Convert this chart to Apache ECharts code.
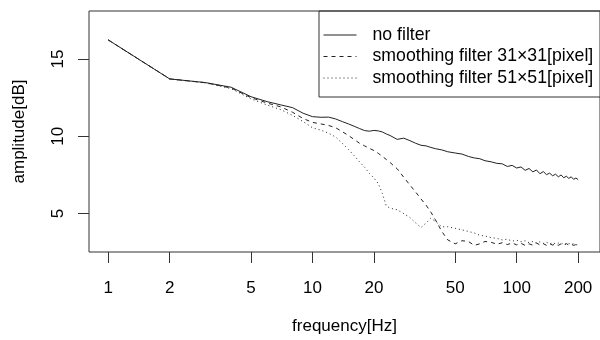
<!DOCTYPE html>
<html>
<head>
<meta charset="utf-8">
<script src="https://cdn.jsdelivr.net/npm/echarts@6/dist/echarts.min.js"></script>
<style>
  html, body { margin: 0; padding: 0; background: #fff; }
  #chart { width: 600px; height: 340px; }
</style>
</head>
<body>
<div id="chart"></div>
<script>
// frequency [Hz]
const freqs = [1, 2, 3, 4, 5, 6, 7, 8, 9, 10, 11, 12, 13, 14, 15, 16, 17, 18, 19, 20,
  21, 22, 23, 24, 26, 28, 30, 32, 34, 36, 38, 40, 43, 46, 50, 54, 58, 62, 66, 70,
  75, 80, 85, 90, 95, 100, 105, 110, 115, 120, 125, 130, 135, 140, 145, 150, 155,
  160, 165, 170, 175, 180, 185, 190, 195, 200];

// amplitude [dB]
const noFilter = [16.23, 13.71, 13.47, 13.17, 12.56, 12.24, 12.03, 11.85, 11.49, 11.27,
  11.23, 11.24, 11.12, 10.95, 10.80, 10.65, 10.50, 10.37, 10.33, 10.38,
  10.35, 10.28, 10.15, 10.05, 9.80, 9.88, 9.72, 9.55, 9.42, 9.38, 9.28, 9.20, 9.12, 9.00,
  8.92, 8.85, 8.70, 8.60, 8.55, 8.42, 8.35, 8.25, 8.22, 8.05, 8.12, 7.95, 8.02, 7.80,
  7.92, 7.70, 7.82, 7.58, 7.72, 7.52, 7.62, 7.45, 7.55, 7.38, 7.50, 7.32, 7.42, 7.28,
  7.38, 7.22, 7.30, 7.20];

const smooth31 = [16.23, 13.71, 13.46, 13.12, 12.50, 12.15, 11.90, 11.55, 11.15, 10.90,
  10.80, 10.70, 10.55, 10.30, 10.05, 9.80, 9.55, 9.38, 9.22, 9.08,
  8.90, 8.70, 8.50, 8.30, 7.90, 7.35, 6.85, 6.40, 5.95, 5.55, 5.10, 4.60, 3.85, 3.30,
  3.05, 3.25, 3.20, 2.95, 3.05, 3.20, 3.15, 3.02, 3.12, 3.00, 3.10, 2.98, 3.08, 2.95,
  3.05, 2.96, 3.10, 2.98, 3.06, 2.95, 3.05, 2.97, 3.04, 2.95, 3.05, 2.98, 3.06, 2.97,
  3.02, 2.95, 3.00, 2.92];

const smooth51 = [16.23, 13.71, 13.45, 13.08, 12.42, 12.02, 11.72, 11.35, 10.95, 10.55,
  10.40, 10.20, 9.95, 9.55, 9.15, 8.75, 8.35, 8.00, 7.60, 7.30,
  6.95, 6.30, 5.50, 5.35, 5.25, 5.00, 4.75, 4.40, 4.10, 4.40, 4.70, 4.50, 4.15, 4.15,
  4.05, 3.95, 3.85, 3.75, 3.60, 3.55, 3.45, 3.40, 3.30, 3.35, 3.22, 3.28, 3.18, 3.25,
  3.12, 3.20, 3.10, 3.18, 3.08, 3.15, 3.05, 3.12, 3.05, 3.10, 3.02, 3.10, 3.00, 3.08,
  3.02, 3.05, 2.98, 3.00];

const xTicks = [1, 2, 5, 10, 20, 50, 100, 200];
const yTicks = [5, 10, 15];
const seriesNames = ["no filter", "smoothing filter 31×31[pixel]", "smoothing filter 51×51[pixel]"];

const font = "'Liberation Sans', Arial, sans-serif";
const ink = "#333";
const lineInk = "#222";

function pairs(vals) {
  return freqs.map((f, i) => [f, vals[i]]);
}

const chart = echarts.init(document.getElementById("chart"));
chart.setOption({
  animation: false,
  backgroundColor: "#fff",
  grid: {
    left: 89,
    top: 11,
    right: -2,
    bottom: 88,
    show: true,
    borderColor: ink,
    borderWidth: 1,
  },
  legend: {
    data: seriesNames,
    orient: "vertical",
    left: 319,
    top: 11,
    padding: [14, 40, 9, 4],
    itemGap: 1.5,
    itemWidth: 33,
    itemHeight: 14,
    borderColor: ink,
    borderWidth: 1,
    borderRadius: 0,
    itemStyle: { opacity: 0 },
    lineStyle: { width: 1, color: lineInk },
    textStyle: {
      fontFamily: font,
      fontSize: 17.7,
      lineHeight: 20,
      color: "#000",
      padding: [0, 0, 0, 11],
    },
  },
  xAxis: {
    type: "log",
    min: 0.805,
    max: 255.9,
    name: "frequency[Hz]",
    nameLocation: "middle",
    nameGap: 66,
    nameTextStyle: { fontFamily: font, fontSize: 17, color: "#000" },
    axisLine: { show: false },
    splitLine: { show: false },
    axisTick: {
      customValues: xTicks,
      length: 11,
      lineStyle: { color: ink },
    },
    axisLabel: {
      customValues: xTicks,
      margin: 28,
      fontFamily: font,
      fontSize: 17,
      color: "#000",
    },
  },
  yAxis: {
    type: "value",
    min: 2.52,
    max: 18.1,
    name: "amplitude[dB]",
    nameLocation: "middle",
    nameGap: 61,
    nameRotate: 90,
    nameTextStyle: { fontFamily: font, fontSize: 17, color: "#000" },
    axisLine: { show: false },
    splitLine: { show: false },
    axisTick: {
      customValues: yTicks,
      length: 11,
      lineStyle: { color: ink },
    },
    axisLabel: {
      customValues: yTicks,
      rotate: 90,
      margin: 22,
      fontFamily: font,
      fontSize: 17,
      color: "#000",
    },
  },
  series: [
    {
      name: seriesNames[0],
      type: "line",
      data: pairs(noFilter),
      symbol: "none",
      itemStyle: { color: lineInk },
      lineStyle: { color: lineInk, width: 1, type: "solid" },
    },
    {
      name: seriesNames[1],
      type: "line",
      data: pairs(smooth31),
      symbol: "none",
      itemStyle: { color: lineInk },
      lineStyle: { color: lineInk, width: 1, type: [4, 4] },
    },
    {
      name: seriesNames[2],
      type: "line",
      data: pairs(smooth51),
      symbol: "none",
      itemStyle: { color: lineInk },
      lineStyle: { color: lineInk, width: 1, type: [1, 3] },
    },
  ],
});
</script>
</body>
</html>
